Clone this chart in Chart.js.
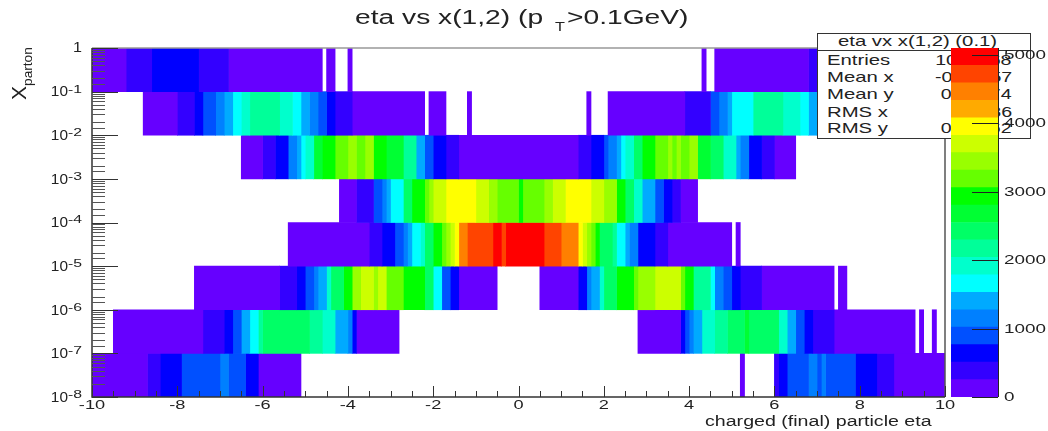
<!DOCTYPE html>
<html><head><meta charset="utf-8">
<script src="https://cdn.jsdelivr.net/npm/chart.js@4"></script>
<style>
html,body{margin:0;padding:0;background:#fff;width:1048px;height:431px;overflow:hidden;font-family:"Liberation Sans",sans-serif;color:#222}
canvas{position:absolute;left:0;top:0}
.t{position:absolute;white-space:nowrap;transform-origin:0 0}
#stats{position:absolute;left:817px;top:33px;width:212px;height:104px;border:1px solid #333;background:#fff;box-sizing:content-box}
#stats .hd{position:absolute;left:0;right:0;top:0;height:16px;border-bottom:1px solid #333}
#stats .hd span{position:absolute;left:20px;top:0;font-size:14.5px;line-height:15px;white-space:nowrap;transform-origin:0 0;transform:scaleX(1.4)}
#stats .r{position:absolute;left:9px;font-size:14.5px;line-height:17px;transform-origin:0 50%;transform:scaleX(1.4)}
#stats .v{position:absolute;right:18px;font-size:14px;line-height:17px;transform-origin:100% 50%;transform:scaleX(1.4)}
</style></head><body>
<canvas id="main" width="1048" height="431"></canvas>
<div id="stats"><div class="hd"><span>eta vx x(1,2) (0.1)</span></div></div>
<canvas id="pal" width="1048" height="431"></canvas>
<div class="t" style="left:355px;top:6px;font-size:20px;line-height:23px;transform:scaleX(1.41)">eta vs x(1,2) (p</div>
<div class="t" style="left:555px;top:20px;font-size:12.5px;line-height:14px;transform:scaleX(1.3)">T</div>
<div class="t" style="left:567px;top:6px;font-size:20px;line-height:23px;transform:scaleX(1.41)">&gt;0.1GeV)</div>
<div class="t" style="left:705px;top:413px;font-size:14px;line-height:16px;transform:scaleX(1.4)">charged (final) particle eta</div>
<div class="t" style="left:8px;top:100px;transform:rotate(-90deg);font-size:21px;line-height:22px">X<span style="font-size:13.7px;position:relative;top:6px">parton</span></div>
<script>
const rowLabels=['1e-1..1','1e-2..1e-1','1e-3..1e-2','1e-4..1e-3','1e-5..1e-4','1e-6..1e-5','1e-7..1e-6','1e-8..1e-7'];
const paletteColors=['#6600ff','#3300ff','#0000ff','#0050ff','#0080ff','#00aaff','#00ffff','#00ffcc','#00ff99','#00ff66','#00ff33','#00ff00','#66ff00','#99ff00','#ccff00','#ffff00','#ffaa00','#ff8000','#ff4400','#ff0000'];
const levelWidth=255;
const levelEdges=[0,255,510,765,1020,1275,1530,1785,2040,2295,2550,2805,3060,3315,3570,3825,4080,4335,4590,4845,5100];
const xTickLabels=[-10,-8,-6,-4,-2,0,2,4,6,8,10];
const yExponents=[0,-1,-2,-3,-4,-5,-6,-7,-8];
const zTicks=[0,1000,2000,3000,4000,5000];

const edges0=[-10,-9.2,-8.6,-7.5,-6.8,-4.6,-4.5,-4.3,-4.0,-3.9,4.3,4.4,4.6,6.8,7.5,8.6,9.2,10];
const counts0=[130,380,640,380,130,null,130,null,130,null,130,null,130,380,640,380,130];
const edges1=[-8.8,-8.0,-7.6,-7.4,-7.1,-6.9,-6.7,-6.5,-6.3,-5.6,-5.3,-5.1,-4.9,-4.7,-4.5,-4.3,-3.9,-2.2,-2.1,-1.7,-1.2,-1.1,1.6,1.7,2.1,3.9,4.5,4.7,4.9,5.0,5.5,6.2,6.6,6.8,7.0,7.2,8.8];
const counts1=[130,380,640,890,1150,1400,1660,1910,2170,1910,1660,1400,1150,890,640,380,130,null,130,null,130,null,130,null,130,380,890,1150,1400,1660,2170,1910,1660,1400,1150,130];
const edges2=[-6.5,-6.0,-5.7,-5.4,-5.2,-5.1,-5.0,-4.8,-4.6,-4.3,-4.0,-3.8,-3.6,-3.4,-3.1,-2.7,-2.4,-2.2,-2.0,-1.7,-1.4,1.4,1.7,2.0,2.1,2.3,2.4,2.5,2.7,2.9,3.2,3.5,3.6,3.7,3.8,4.0,4.2,4.5,4.8,5.1,5.2,5.4,5.7,6.0,6.5];
const counts2=[130,380,640,1150,1400,1660,1910,2680,2930,3190,3440,3190,3440,2930,2680,2170,1400,890,640,380,130,380,640,890,1150,1400,1660,1910,2420,2930,3190,3440,3190,3440,3190,3440,2680,2420,1910,1400,1150,640,380,130];
const edges3=[-4.2,-3.8,-3.4,-3.2,-3.1,-3.0,-2.7,-2.5,-2.2,-2.1,-2.0,-1.7,-1.0,-0.7,-0.5,0,0.1,0.6,0.8,1.1,1.7,2.0,2.3,2.5,2.7,2.9,3.2,3.4,3.6,3.8,4.2];
const counts3=[130,380,890,1150,1400,1660,2420,2930,3190,3440,3700,3950,3700,3440,3190,2930,3190,3440,3700,3950,3700,3440,2930,2420,1910,1400,890,640,380,130];
const edges4=[-5.4,-3.5,-3.2,-2.9,-2.7,-2.6,-2.5,-2.3,-2.2,-2.0,-1.8,-1.7,-1.6,-1.5,-1.4,-1.2,-0.6,-0.4,-0.3,0.6,1.0,1.4,1.5,1.6,1.7,1.8,1.9,2.2,2.3,2.5,2.6,2.8,3.2,3.5,5.0,5.1,5.2];
const counts4=[130,380,640,890,1150,1400,1660,1910,2420,2930,3190,3440,3700,3950,4460,4720,4970,4720,4970,4720,4460,3950,3700,3440,3190,2930,2420,2170,1660,1400,1150,640,380,130,null,130];
const edges5=[-7.6,-5.6,-5.2,-5.0,-4.8,-4.7,-4.5,-4.4,-4.1,-3.9,-3.7,-3.4,-3.3,-3.1,-2.7,-2.2,-2.0,-1.8,-1.6,-1.4,-0.5,0.5,1.4,1.6,1.7,1.9,2.0,2.3,2.7,2.8,3.2,3.8,3.9,4.1,4.5,4.6,4.8,5.0,5.2,5.7,7.4,7.5,7.7];
const counts5=[130,380,640,890,1150,1400,1910,2420,2930,3440,3700,3440,3700,3190,2930,2420,1660,890,640,130,null,130,640,1150,1400,1910,2420,2930,3190,3440,3700,3190,2930,2170,1660,1150,890,640,380,130,null,130];
const edges6=[-9.5,-7.4,-6.9,-6.7,-6.5,-6.3,-6.1,-6.0,-4.9,-4.6,-4.3,-4.0,-3.9,-3.8,-2.8,2.8,3.8,3.9,4.0,4.1,4.3,4.6,4.9,5.3,5.4,6.1,6.3,6.5,6.7,6.9,7.4,9.3,9.4,9.5,9.7,9.8];
const counts6=[130,380,640,890,1400,1660,2170,2420,2170,1910,1400,1150,640,130,null,130,640,890,1150,1400,1910,2170,2420,2680,2420,1910,1400,890,640,380,130,null,130,null,130];
const edges7=[-10,-8.7,-8.4,-7.9,-7.0,-6.8,-6.4,-6.1,-5.1,5.2,5.3,6.0,6.1,6.3,6.8,7.0,7.1,7.2,7.9,8.4,8.8,10];
const counts7=[130,380,640,890,1150,890,640,130,null,130,null,380,640,890,1150,890,1150,890,640,380,130];
const rowEdges=[edges0,edges1,edges2,edges3,edges4,edges5,edges6,edges7];
const rowCounts=[counts0,counts1,counts2,counts3,counts4,counts5,counts6,counts7];

const font='"Liberation Sans",sans-serif', ink='#222';
function wideText(c,str,x,y,size,sx,align){
  c.save();c.translate(x,y);c.scale(sx,1);
  c.font=size+'px '+font;c.textAlign=align;c.textBaseline='middle';c.fillStyle=ink;
  c.fillText(str,0,0);c.restore();
}
const datasets=[];
rowEdges.forEach((edges,r)=>{
  rowCounts[r].forEach((c,i)=>{
    if(c===null)return;
    const data=rowLabels.map(()=>null);
    data[r]=[edges[i],edges[i+1]];
    datasets.push({data,backgroundColor:paletteColors[Math.min(19,Math.floor(c/levelWidth))],borderWidth:0,barPercentage:1,categoryPercentage:1,grouped:false,xAxisID:'x',yAxisID:'y'});
  });
});

const axesPlugin={id:'axesPlugin',afterDatasetsDraw(ch){
  const c=ch.ctx,a=ch.chartArea,sx=ch.scales.x,sy=ch.scales.yLog;
  c.save();
  c.strokeStyle='#999';c.lineWidth=1.5;
  c.beginPath();c.moveTo(a.left,a.top);c.lineTo(a.right,a.top);c.stroke();
  c.strokeStyle='#555';c.lineWidth=1.5;
  c.beginPath();c.moveTo(a.right,a.top);c.lineTo(a.right,a.bottom);c.stroke();
  c.strokeStyle='#333';
  c.beginPath();c.moveTo(a.left,a.top);c.lineTo(a.left,a.bottom);c.lineTo(a.right,a.bottom);c.stroke();
  c.lineWidth=1;c.strokeStyle='#333';
  sx.ticks.forEach(t=>{
    const x=Math.round(sx.getPixelForValue(t.value))+.5;
    const len=Number.isInteger(t.value/2)?11:6;
    c.beginPath();c.moveTo(x,a.bottom);c.lineTo(x,a.bottom-len);c.stroke();
  });
  sy.ticks.forEach(t=>{
    const y=Math.round(sy.getPixelForValue(t.value))+.5;
    const e=Math.log10(t.value);
    const major=Math.abs(e-Math.round(e))<1e-6;
    c.strokeStyle=major?'#333':'#555';
    c.beginPath();c.moveTo(a.left,y);c.lineTo(a.left+(major?26:13),y);c.stroke();
  });
  xTickLabels.forEach(v=>wideText(c,String(v),sx.getPixelForValue(v),405,13,1.4,'center'));
  yExponents.forEach(e=>{
    const y=sy.getPixelForValue(Math.pow(10,e));
    if(e===0){wideText(c,'1',82,y,14,1.15,'right');return;}
    wideText(c,String(e),82,y-2,10.5,1.5,'right');
    wideText(c,'10',68,y+1,14,1.1,'right');
  });
  c.restore();
}};

new Chart(document.getElementById('main'),{
  type:'bar',
  data:{labels:rowLabels,datasets},
  plugins:[axesPlugin],
  options:{
    indexAxis:'y',responsive:false,animation:false,
    layout:{padding:{top:48,right:103,left:0,bottom:0}},
    plugins:{legend:{display:false},tooltip:{enabled:false},title:{display:false}},
    scales:{
      x:{type:'linear',min:-10,max:10,position:'bottom',
        grid:{display:false,drawTicks:false},border:{display:false},
        ticks:{stepSize:.5,autoSkip:false,maxRotation:0,callback:()=>''},
        afterFit(s){s.height=34;}},
      y:{type:'category',display:false,grid:{display:false}},
      yLog:{type:'logarithmic',position:'left',min:1e-8,max:1,
        grid:{display:false,drawTicks:false},border:{display:false},
        ticks:{autoSkip:false,callback:()=>''},
        afterFit(s){s.width=92;}}
    }
  }
});

/* stats box */
const statNames=['Entries','Mean x','Mean y','RMS x','RMS y'];
const statValues=['1000068','-0.01957','0.00174','3.986','0.15862'];
const box=document.getElementById('stats');
const statTop=[18,35,52,70,86];
statNames.forEach((n,i)=>{
  const a=document.createElement('div');a.className='r';a.style.top=statTop[i]+'px';a.textContent=n;box.appendChild(a);
  const b=document.createElement('div');b.className='v';b.style.top=statTop[i]+'px';b.textContent=statValues[i];box.appendChild(b);
});

/* palette */
const palSets=paletteColors.map((col,i)=>({data:[levelEdges[i+1]-levelEdges[i]],backgroundColor:col,borderWidth:0,barPercentage:1,categoryPercentage:1,stack:'z'}));
const palPlugin={id:'palPlugin',afterDatasetsDraw(ch){
  const c=ch.ctx,a=ch.chartArea,s=ch.scales.y;
  c.save();c.strokeStyle='#222';c.lineWidth=1;
  zTicks.forEach(v=>{
    const y=Math.round(s.getPixelForValue(v))+.5;
    c.beginPath();c.moveTo(a.right,y);c.lineTo(a.right-26,y);c.stroke();
    wideText(c,String(v),1004,y,13,1.45,'left');
  });
  c.beginPath();c.moveTo(a.right+.5,a.top);c.lineTo(a.right+.5,a.bottom);c.stroke();
  c.restore();
}};
new Chart(document.getElementById('pal'),{
  type:'bar',
  data:{labels:['z'],datasets:palSets},
  plugins:[palPlugin],
  options:{
    responsive:false,animation:false,
    layout:{padding:{left:951,right:0,top:48,bottom:34}},
    plugins:{legend:{display:false},tooltip:{enabled:false}},
    scales:{
      x:{display:false,stacked:true},
      y:{stacked:true,position:'right',min:0,max:5100,
        grid:{display:false,drawTicks:false},border:{display:false},
        ticks:{stepSize:1000,autoSkip:false,callback:()=>''},
        afterFit(s){s.width=50;}}
    }
  }
});
</script>
</body></html>
